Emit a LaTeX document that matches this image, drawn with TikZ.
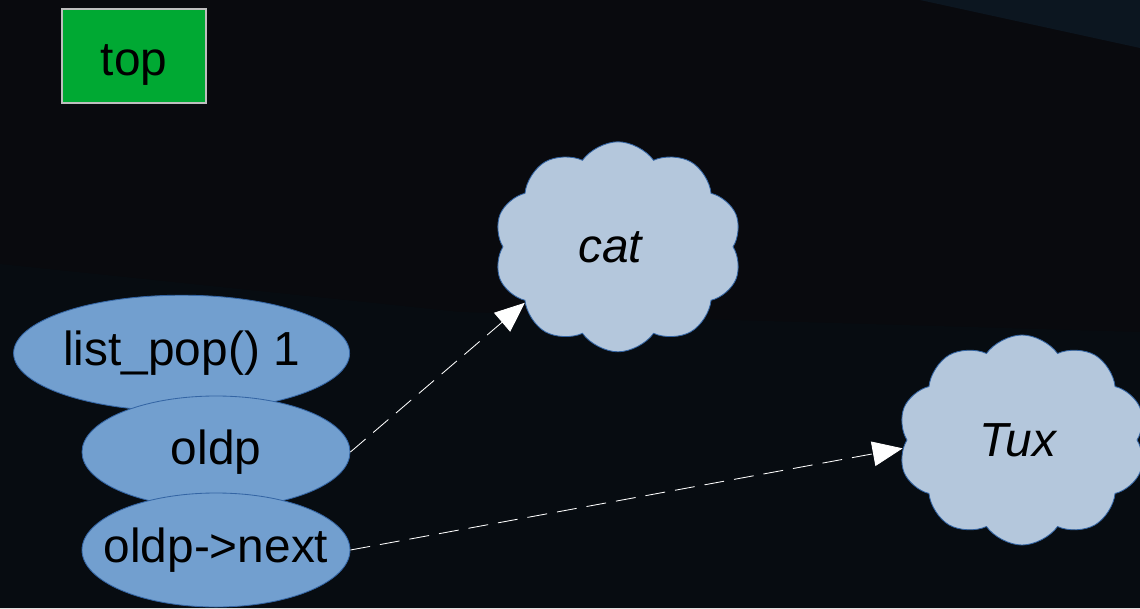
\documentclass[tikz,border=0pt]{standalone}
\usepackage{fontspec}
\setmainfont{Liberation Sans}
\usetikzlibrary{shapes.geometric,shapes.symbols,arrows.meta}
\definecolor{bgdark}{RGB}{9,10,14}
\definecolor{bglow}{RGB}{7,12,17}
\definecolor{bgcorner}{RGB}{12,22,32}
\definecolor{boxgreen}{RGB}{0,169,51}
\definecolor{boxgray}{RGB}{190,190,190}
\definecolor{varblue}{RGB}{114,159,207}
\definecolor{edgeblue}{RGB}{52,101,164}
\definecolor{cloudblue}{RGB}{180,199,220}
\tikzset{
    bigfont/.style={font=\fontsize{34}{40}\selectfont},
    topbox/.style={bigfont, draw=boxgray, line width=2pt, fill=boxgreen, minimum width=3.6cm, minimum height=2.35cm, inner sep=0pt, text height=1cm, text depth=0cm},
    varnode/.style={bigfont, ellipse, draw=edgeblue, fill=varblue, line width=0.6pt, inner sep=0pt},
    objcloud/.style={cloud, cloud puffs=10, cloud puff arc=110, cloud ignores aspect, draw=edgeblue, fill=cloudblue, line width=0.6pt, minimum width=6.2cm, minimum height=5.25cm, font=\fontsize{34}{40}\selectfont\itshape},
    ptr/.style={white, line width=0.6pt, dash pattern=on 0.5cm off 0.25cm, -{Triangle[length=0.75cm, width=0.62cm]}}
}
\begin{document}
\begin{tikzpicture}
        \fill[bgdark] (0,0) rectangle (28.5,15.2);
        \useasboundingbox (0,0) rectangle (28.5,15.2);
        \fill[bglow] (0,0) -- (0,8.6) -- (11.5,7.4) -- (28.5,6.9) -- (28.5,0) -- cycle;
        \fill[bgcorner] (23,15.2) -- (28.5,15.2) -- (28.5,14) -- cycle;
        \node[topbox] (top) at (3.35,13.8) {top};
        \node[varnode, minimum width=8.4cm, minimum height=2.9cm] (listpop) at (4.54,6.37) {list\_pop() 1};
        \node[varnode, minimum width=6.7cm, minimum height=2.8cm] (oldp) at (5.4,3.9) {oldp};
        \node[varnode, inner xsep=-0.6cm, minimum width=6.7cm, minimum height=2.85cm] (oldpnext) at (5.4,1.45) {oldp->next};
        \node[objcloud] (cat) at (15.45,9.03) {\hspace*{-0.4cm}cat};
        \node[objcloud] (tux) at (25.55,4.2) {\hspace*{-0.2cm}Tux};
        \draw[ptr] (oldp.east) -- (cat.211);
        \draw[ptr] (oldpnext.east) -- (tux.184);
    \end{tikzpicture}
\end{document}
